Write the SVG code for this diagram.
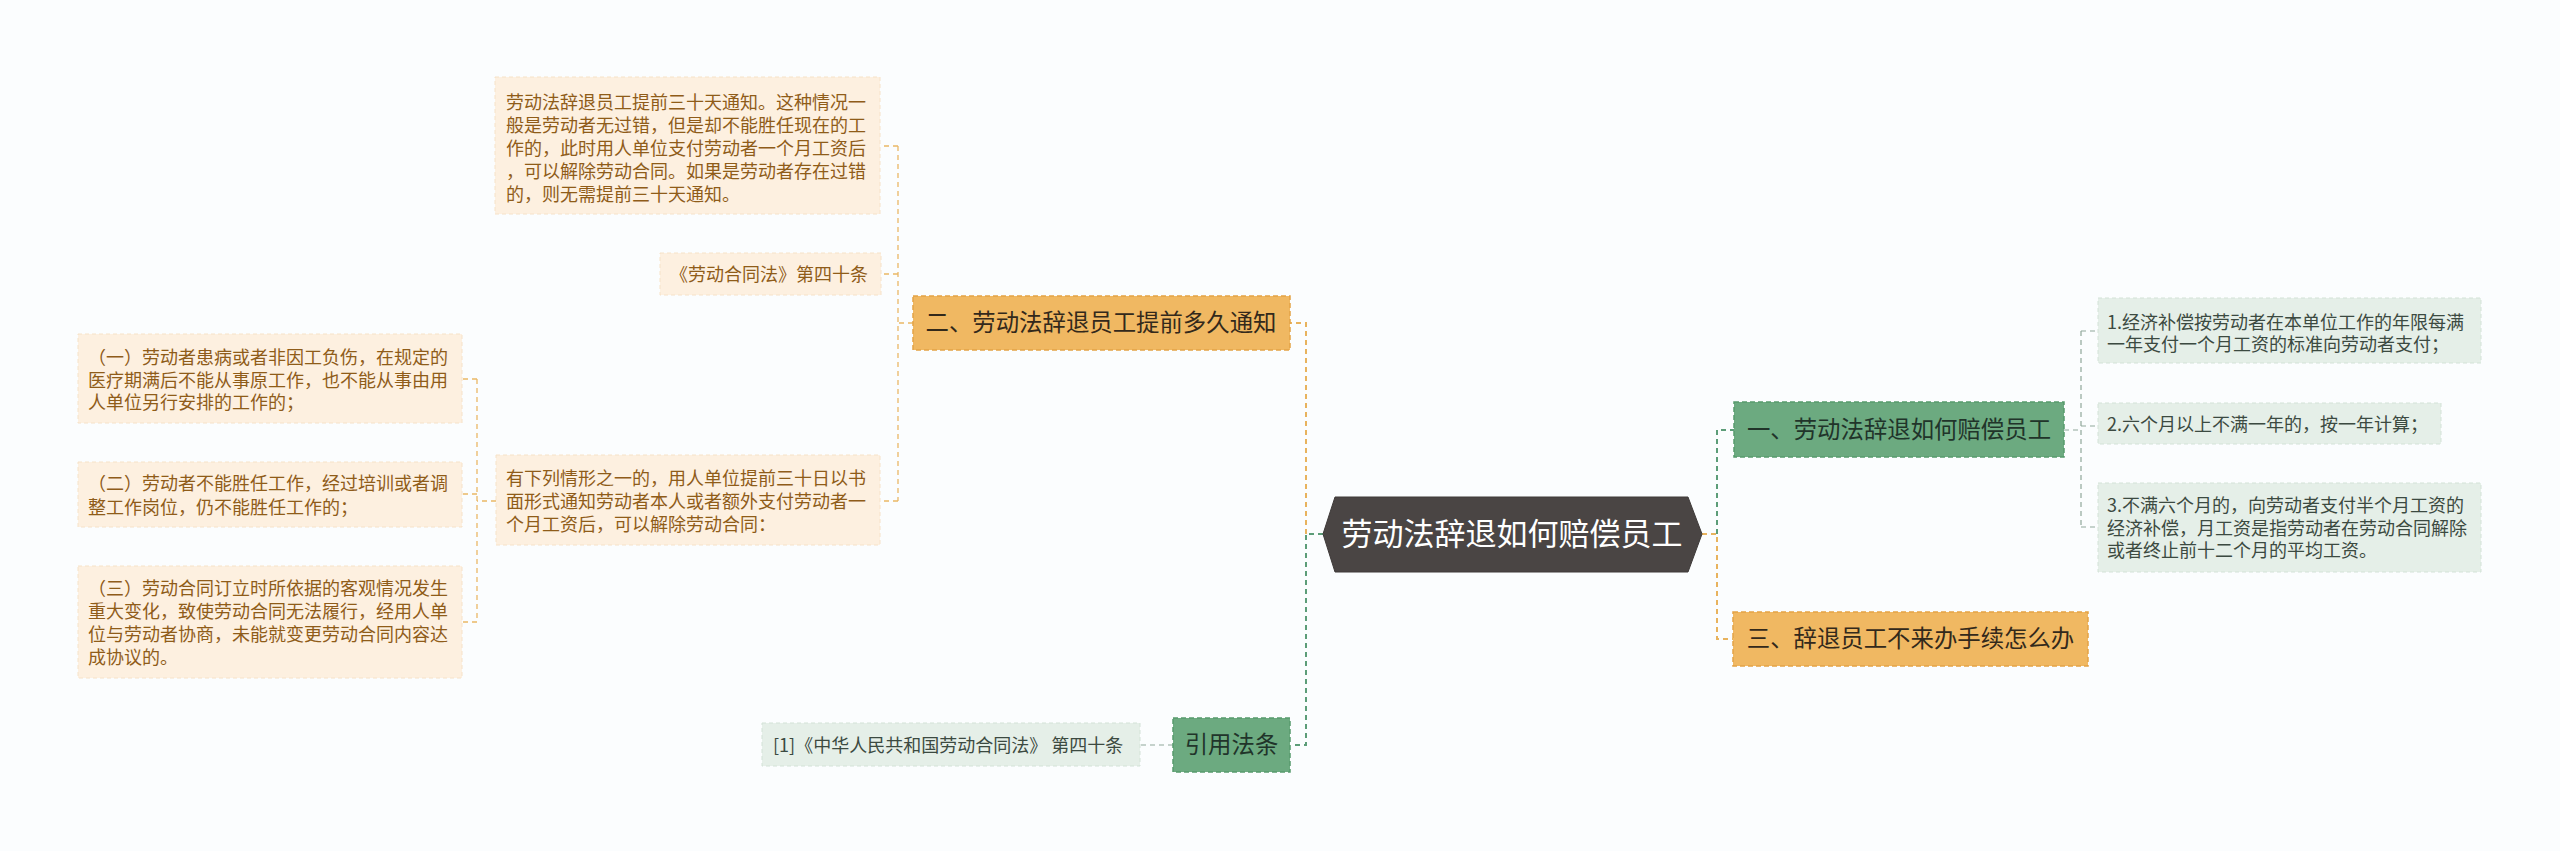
<svg xmlns="http://www.w3.org/2000/svg" width="2560" height="851" viewBox="0 0 2560 851">
<style>
text{font-family:"Noto Sans CJK SC","Noto Sans",sans-serif}
.bg{fill:#fbfdfe}
.lo{fill:#fdf0e0;stroke:#f6e2c8;stroke-width:1;stroke-dasharray:4 3}
.lg{fill:#e5efe8;stroke:#d3e2d7;stroke-width:1;stroke-dasharray:4 3}
.mo{fill:#f0b862;stroke:#e3a245;stroke-width:1.5;stroke-dasharray:5 3}
.mg{fill:#6caa80;stroke:#579a6c;stroke-width:1.5;stroke-dasharray:5 3}
.to{font-size:18px;fill:#8f5c19}
.tg{font-size:18px;fill:#3c4a41}
.tm{font-size:23.4px;fill:#33291b;text-anchor:middle}
.tmg{font-size:23.4px;fill:#21342a;text-anchor:middle}
.co{fill:none;stroke:#e8b35e;stroke-width:2;stroke-dasharray:5 4}
.cg{fill:none;stroke:#5c9d78;stroke-width:2;stroke-dasharray:5 4}
.so{fill:none;stroke:#eab866;stroke-width:1.3;stroke-dasharray:5 4}
.sg{fill:none;stroke:#8fa799;stroke-width:1.2;stroke-dasharray:5 4}
</style>
<rect class="bg" x="0" y="0" width="2560" height="851"/>
<g id="connectors">
<path class="co" d="M1306,534 V323 H1290"/>
<path class="cg" d="M1323,534 H1306 V745 H1291"/>
<path class="cg" d="M1717,534 V430 H1734"/>
<path class="co" d="M1702,534 H1717 V639 H1733"/>
<path class="so" d="M913,323 H898"/>
<path class="so" d="M898,146 V501"/>
<path class="so" d="M898,146 H880"/>
<path class="so" d="M898,274 H881"/>
<path class="so" d="M898,501 H880"/>
<path class="so" d="M496,501 H477"/>
<path class="so" d="M477,379 V622"/>
<path class="so" d="M477,379 H462"/>
<path class="so" d="M477,494 H462"/>
<path class="so" d="M477,622 H462"/>
<path class="sg" d="M1173,745 H1140"/>
<path class="sg" d="M2064,430 H2081"/>
<path class="sg" d="M2081,331 V527"/>
<path class="sg" d="M2081,331 H2098"/>
<path class="sg" d="M2081,426 H2098"/>
<path class="sg" d="M2081,527 H2098"/>
</g>
<g id="center">
<polygon points="1323,534 1335,497 1688,497 1702,534 1688,572 1335,572" fill="#4a4544" stroke="#3e3a39" stroke-width="1"/>
<text x="1512" y="545" font-size="31" fill="#ffffff" text-anchor="middle">劳动法辞退如何赔偿员工</text>
</g>
<g id="n2">
<rect class="mo" x="913" y="296" width="377" height="54"/>
<text class="tm" x="1101" y="331">二、劳动法辞退员工提前多久通知</text>
</g>
<g id="n2a">
<rect class="lo" x="495" y="77" width="385" height="137"/>
<text class="to" x="506" y="108.5">劳动法辞退员工提前三十天通知。这种情况一</text>
<text class="to" x="506" y="131.5">般是劳动者无过错，但是却不能胜任现在的工</text>
<text class="to" x="506" y="154.5">作的，此时用人单位支付劳动者一个月工资后</text>
<text class="to" x="506" y="178">，可以解除劳动合同。如果是劳动者存在过错</text>
<text class="to" x="506" y="201">的，则无需提前三十天通知。</text>
</g>
<g id="n2b">
<rect class="lo" x="660" y="253" width="221" height="42"/>
<text class="to" x="670" y="280.5">《劳动合同法》第四十条</text>
</g>
<g id="n2c">
<rect class="lo" x="496" y="455" width="384" height="90"/>
<text class="to" x="506" y="484.5">有下列情形之一的，用人单位提前三十日以书</text>
<text class="to" x="506" y="507.5">面形式通知劳动者本人或者额外支付劳动者一</text>
<text class="to" x="506" y="530.5">个月工资后，可以解除劳动合同：</text>
</g>
<g id="n2c1">
<rect class="lo" x="78" y="334" width="384" height="89"/>
<text class="to" x="88" y="363.5">（一）劳动者患病或者非因工负伤，在规定的</text>
<text class="to" x="88" y="386.5">医疗期满后不能从事原工作，也不能从事由用</text>
<text class="to" x="88" y="408.5">人单位另行安排的工作的；</text>
</g>
<g id="n2c2">
<rect class="lo" x="78" y="462" width="384" height="65"/>
<text class="to" x="88" y="489.5">（二）劳动者不能胜任工作，经过培训或者调</text>
<text class="to" x="88" y="513.5">整工作岗位，仍不能胜任工作的；</text>
</g>
<g id="n2c3">
<rect class="lo" x="78" y="566" width="384" height="112"/>
<text class="to" x="88" y="594.5">（三）劳动合同订立时所依据的客观情况发生</text>
<text class="to" x="88" y="617.5">重大变化，致使劳动合同无法履行，经用人单</text>
<text class="to" x="88" y="640.5">位与劳动者协商，未能就变更劳动合同内容达</text>
<text class="to" x="88" y="663.5">成协议的。</text>
</g>
<g id="ref">
<rect class="mg" x="1173" y="718" width="117" height="54"/>
<text class="tmg" x="1231.5" y="753">引用法条</text>
</g>
<g id="ref1">
<rect class="lg" x="762" y="723" width="378" height="43"/>
<text class="tg" x="773" y="751.5">[1]《中华人民共和国劳动合同法》 第四十条</text>
</g>
<g id="n1">
<rect class="mg" x="1734" y="402" width="330" height="55"/>
<text class="tmg" x="1899" y="438">一、劳动法辞退如何赔偿员工</text>
</g>
<g id="n1a">
<rect class="lg" x="2098" y="298" width="383" height="65"/>
<text class="tg" x="2107" y="328.5">1.经济补偿按劳动者在本单位工作的年限每满</text>
<text class="tg" x="2107" y="350.5">一年支付一个月工资的标准向劳动者支付；</text>
</g>
<g id="n1b">
<rect class="lg" x="2098" y="403" width="343" height="41"/>
<text class="tg" x="2107" y="430.5">2.六个月以上不满一年的，按一年计算；</text>
</g>
<g id="n1c">
<rect class="lg" x="2098" y="483" width="383" height="89"/>
<text class="tg" x="2107" y="511.5">3.不满六个月的，向劳动者支付半个月工资的</text>
<text class="tg" x="2107" y="534.5">经济补偿，月工资是指劳动者在劳动合同解除</text>
<text class="tg" x="2107" y="556.5">或者终止前十二个月的平均工资。</text>
</g>
<g id="n3">
<rect class="mo" x="1733" y="612" width="355" height="54"/>
<text class="tm" x="1910.5" y="647">三、辞退员工不来办手续怎么办</text>
</g>
</svg>
